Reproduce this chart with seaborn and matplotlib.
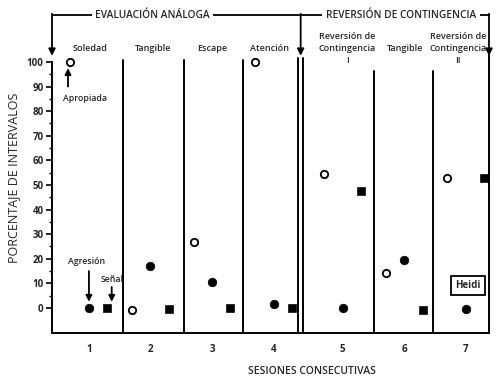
import numpy as np
import pandas as pd
import seaborn as sns
import matplotlib.pyplot as plt

sesiones = [1, 2, 3, 4, 5, 6, 7]
apropiada = [100, -1, 27, 100, 54.5, 14, 53]
agresion = [0, 17, 10.5, 1.5, 0, 19.5, -0.5]
senal = [0, -0.5, 0, 0, 47.5, -1, 53]
condiciones = ['Soledad', 'Tangible', 'Escape', 'Atención',
               'Reversión de\nContingencia\nI', 'Tangible',
               'Reversión de\nContingencia\nII']

sns.set_theme(style='white')
plt.rcParams['font.family'] = ['Open Sans', 'DejaVu Sans']

# sessions of the reversal phase sit a bit further right
pos = np.array(sesiones, dtype=float) + np.where(np.array(sesiones) >= 5, 0.12, 0.0)
# small horizontal nudges of the condition names
nudge = [0.02, 0.04, 0.0, -0.06, 0.08, 0.02, -0.12]

df = pd.DataFrame({'sesion': sesiones, 'pos': pos, 'Apropiada': apropiada,
                   'Agresión': agresion, 'Señal': senal})

fig = plt.figure(figsize=(4.97, 3.79), dpi=100)
ax = fig.add_axes([52 / 497, 1 - 333 / 379, 437 / 497, 271 / 379])

sns.scatterplot(x=df['pos'] - 0.3, y=df['Apropiada'], ax=ax, marker='o', s=28,
                facecolor='white', edgecolor='black', linewidth=1.3, clip_on=False, zorder=5)
sns.scatterplot(x=df['pos'], y=df['Agresión'], ax=ax, marker='o', s=38,
                color='black', edgecolor='black', clip_on=False, zorder=5)
sns.scatterplot(x=df['pos'] + 0.3, y=df['Señal'], ax=ax, marker='s', s=34,
                color='black', edgecolor='black', clip_on=False, zorder=5)

ax.set_xlim(0.40, 7.50)
ax.set_ylim(-10.2, 100)
sns.despine(ax=ax, top=True, right=True)
for sp in ['left', 'bottom']:
    ax.spines[sp].set_color('black')
    ax.spines[sp].set_linewidth(1.4)
ax.spines['left'].set_bounds(-10.2, 100)

ax.set_yticks(range(0, 101, 10))
ax.set_yticks(range(5, 100, 10), minor=True)
ax.tick_params(axis='y', which='major', direction='out', length=4, width=1.2,
               color='black', labelsize=7, pad=2, left=True)
ax.tick_params(axis='y', which='minor', direction='out', length=2.5, width=1,
               color='black', left=True)
for lab in ax.get_yticklabels():
    lab.set_fontweight('bold')
ax.set_xticks(pos)
ax.set_xticklabels([str(s) for s in sesiones], fontsize=7, fontweight='bold')
ax.tick_params(axis='x', length=0, pad=8)
ax.set_xlabel('SESIONES CONSECUTIVAS', fontsize=7.5, fontweight='semibold')
ax.xaxis.set_label_coords(0.595, -0.122)
ax.set_ylabel('PORCENTAJE DE INTERVALOS', fontsize=9)
ax.yaxis.set_label_coords(-0.073, 0.572)
ax.grid(False)

# phase change lines
sep_x = [1.55, 2.54, 3.50, 4.40, 4.48, 5.63, 6.59, 7.50]
sep_top = [101, 101, 101, 101.5, 101.5, 96.5, 96.5, 103]
for x, t in zip(sep_x, sep_top):
    ax.plot([x, x], [-10.2, t], color='black', lw=1.4, clip_on=False)

# condition names above each session
for p, d, c in zip(pos, nudge, condiciones):
    ax.text(p + d, 105.4, c, ha='center', va='center',
            fontsize=6.5, fontweight='semibold', linespacing=1.4)

# top brackets
ytop = 119
ax.plot([0.40, 7.50], [ytop, ytop], color='black', lw=1.3, clip_on=False)
for x in [0.40, 4.44, 7.50]:
    ax.annotate('', xy=(x, 102.5), xytext=(x, ytop + 0.6),
                arrowprops=dict(arrowstyle='-|>', color='black', lw=1.3,
                                mutation_scale=10, shrinkA=0, shrinkB=0),
                annotation_clip=False)
for x, t in [(2.03, 'EVALUACIÓN ANÁLOGA'), (6.07, 'REVERSIÓN DE CONTINGENCIA')]:
    ax.text(x, ytop, t, ha='center', va='center', fontsize=7.3, fontweight='semibold',
            bbox=dict(facecolor='white', edgecolor='none', pad=2.5))

# behaviour labels with arrows
ax.text(0.93, 85, 'Apropiada', ha='center', va='center', fontsize=6.3, fontweight='semibold')
ax.annotate('', xy=(0.66, 97.5), xytext=(0.66, 90),
            arrowprops=dict(arrowstyle='-|>', color='black', lw=1.3, mutation_scale=9,
                            shrinkA=0, shrinkB=0))
ax.text(0.96, 18.7, 'Agresión', ha='center', va='center', fontsize=6.3, fontweight='semibold')
ax.annotate('', xy=(1.0, 2.5), xytext=(1.0, 15),
            arrowprops=dict(arrowstyle='-|>', color='black', lw=1.3, mutation_scale=9,
                            shrinkA=0, shrinkB=0))
ax.text(1.37, 11.4, 'Señal', ha='center', va='center', fontsize=6.3, fontweight='semibold')
ax.annotate('', xy=(1.37, 2.5), xytext=(1.37, 8.5),
            arrowprops=dict(arrowstyle='-|>', color='black', lw=1.3, mutation_scale=9,
                            shrinkA=0, shrinkB=0))

ax.text(7.16, 9, 'Heidi', ha='center', va='center', fontsize=7, fontweight='bold',
        bbox=dict(facecolor='white', edgecolor='black', lw=1.3, boxstyle='square,pad=0.4'))

fig.savefig('out.png', dpi=100)
